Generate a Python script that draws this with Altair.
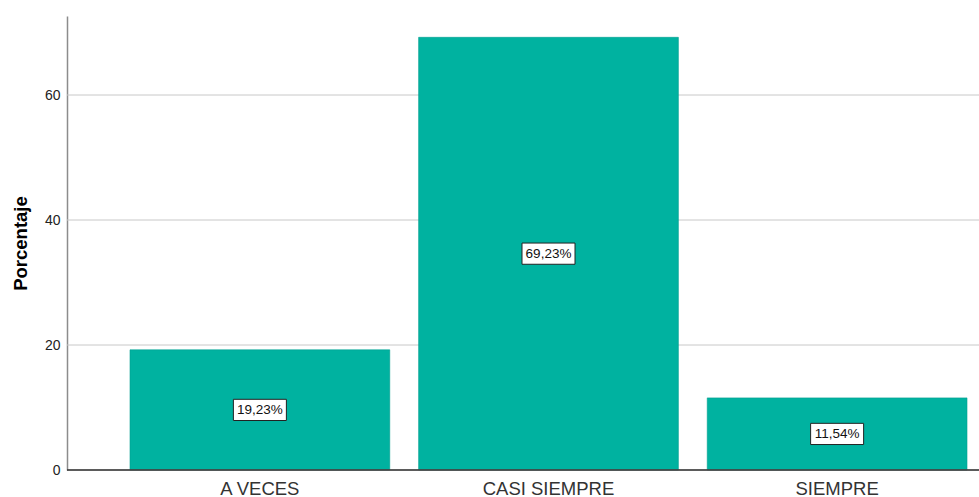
import altair as alt
import pandas as pd

categories = ["A VECES", "CASI SIEMPRE", "SIEMPRE"]
values = [19.23, 69.23, 11.54]
labels = ["19,23%", "69,23%", "11,54%"]
grid_values = [20, 40, 60]

df = pd.DataFrame({"cat": categories, "val": values, "lab": labels})
df["mid"] = df["val"] / 2
gdf = pd.DataFrame({"g": grid_values})

xscale = alt.Scale(domain=categories, range=[63, 900], paddingInner=0.1, paddingOuter=0)
yscale = alt.Scale(domain=[0, 72.64], nice=False, zero=True)

x = alt.X("cat:N", scale=xscale, sort=categories,
          axis=alt.Axis(title=None, labelAngle=0, labelFont="Liberation Sans", labelFontSize=18.5,
                        labelColor="#333333", ticks=False, labelPadding=9, domain=False, grid=False))

grid = alt.Chart(gdf).mark_rule(color="#c8c8c8", strokeWidth=1).encode(
    y=alt.Y("g:Q", scale=yscale), x=alt.value(0), x2=alt.value(912)
)

bars = alt.Chart(df).mark_bar(color="#00b2a0", stroke="#00a090", strokeWidth=0.6).encode(
    x=x,
    y=alt.Y("val:Q", scale=yscale,
            axis=alt.Axis(title="Porcentaje", titleFont="Liberation Sans", titleFontSize=18.5,
                          titleFontWeight="bold", titleColor="#000000", titlePadding=14,
                          values=[0, 20, 40, 60], labelFont="Liberation Sans", labelFontSize=14,
                          labelColor="#222222", ticks=False, labelPadding=7,
                          domain=True, domainColor="#8c8c8c", domainWidth=1.5,
                          grid=False))
)

boxes = alt.Chart(df).mark_point(
    shape="M-1,-0.4L1,-0.4L1,0.4L-1,0.4Z", size=2809, filled=True,
    fill="white", stroke="#222222", strokeWidth=1, opacity=1
).encode(x=alt.X("cat:N", scale=xscale, sort=categories), y=alt.Y("mid:Q", scale=yscale))

texts = alt.Chart(df).mark_text(font="Liberation Sans", fontSize=13.5, color="#111111", dy=0.5).encode(
    x=alt.X("cat:N", scale=xscale, sort=categories), y=alt.Y("mid:Q", scale=yscale), text="lab:N"
)

baseline = alt.Chart(df).mark_rule(color="#444444", strokeWidth=1.2).encode(
    x=alt.value(0), x2=alt.value(912), y=alt.value(454)
)

chart = alt.layer(grid, bars, boxes, texts, baseline).properties(
    width=912, height=454,
    autosize=alt.AutoSizeParams(type="none"),
    padding={"left": 67, "top": 16, "right": 0, "bottom": 27},
).configure_view(stroke=None)

chart.save("out.html", embed_options={"renderer": "svg", "actions": False})
